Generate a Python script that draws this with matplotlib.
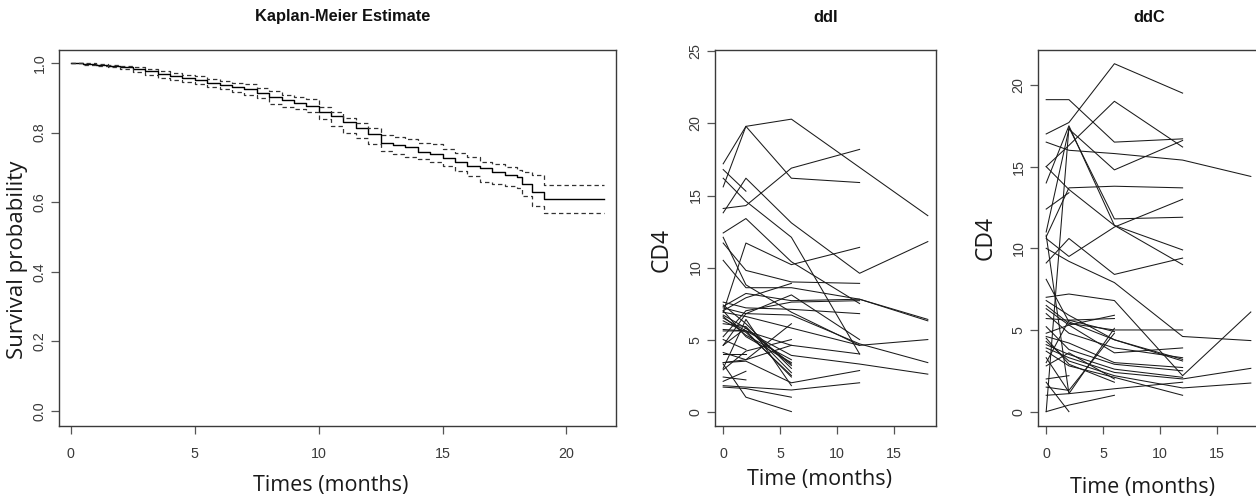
import matplotlib
matplotlib.use("Agg")
import matplotlib.pyplot as plt

# Kaplan-Meier estimate with 95% band (step values)
km_time = [0, 0.5, 1, 1.5, 2, 2.5, 3, 3.5, 4, 4.5, 5, 5.5, 6, 6.5, 7, 7.5, 8, 8.5,
           9, 9.5, 10, 10.5, 11, 11.5, 12, 12.5, 13, 13.5, 14, 14.5, 15, 15.5,
           16, 16.5, 17, 17.5, 18, 18.2, 18.6, 19.1, 21.5]
km_surv = [1.0, 0.997, 0.994, 0.991, 0.988, 0.982, 0.976, 0.969, 0.962, 0.956,
           0.950, 0.943, 0.937, 0.932, 0.926, 0.914, 0.902, 0.893, 0.886, 0.876,
           0.858, 0.846, 0.829, 0.813, 0.795, 0.771, 0.764, 0.757, 0.745, 0.739,
           0.727, 0.714, 0.705, 0.697, 0.688, 0.677, 0.671, 0.652, 0.629, 0.610,
           0.610]
km_upper = [1.0, 0.999, 0.997, 0.995, 0.992, 0.988, 0.982, 0.976, 0.971, 0.966,
            0.962, 0.955, 0.948, 0.943, 0.938, 0.928, 0.919, 0.908, 0.901, 0.895,
            0.874, 0.860, 0.843, 0.828, 0.813, 0.793, 0.788, 0.780, 0.770, 0.767,
            0.754, 0.742, 0.730, 0.716, 0.710, 0.700, 0.693, 0.688, 0.679, 0.648,
            0.648]
km_lower = [1.0, 0.993, 0.990, 0.987, 0.983, 0.974, 0.966, 0.957, 0.951, 0.945,
            0.938, 0.932, 0.926, 0.916, 0.909, 0.899, 0.881, 0.874, 0.867, 0.860,
            0.838, 0.818, 0.800, 0.783, 0.766, 0.748, 0.738, 0.731, 0.724, 0.715,
            0.703, 0.690, 0.675, 0.659, 0.652, 0.646, 0.640, 0.619, 0.590, 0.569,
            0.569]

# CD4 counts per patient: (visit months, values)
ddi_patients = [
    ([0, 2, 6, 18], [15.6, 19.8, 20.3, 13.6]),
    ([0, 2, 6, 12], [17.2, 19.8, 16.2, 15.9]),
    ([0, 2, 6, 12], [14.1, 14.3, 16.9, 18.2]),
    ([0, 2], [16.8, 15.3]),
    ([0, 2, 6, 12, 18], [13.8, 16.2, 13.1, 9.6, 11.8]),
    ([0, 2, 6, 12], [16.2, 14.6, 12.1, 4.0]),
    ([0, 2, 6, 12], [12.4, 13.4, 10.4, 7.5]),
    ([0, 2, 6, 12], [6.9, 11.7, 10.2, 11.4]),
    ([0, 2, 6, 12], [11.7, 9.8, 9.0, 8.9]),
    ([0, 2, 6, 12, 18], [10.5, 8.6, 8.6, 7.8, 6.4]),
    ([0, 2, 6, 12, 18], [7.3, 8.2, 7.7, 7.8, 6.3]),
    ([0, 2, 6], [7.0, 7.9, 8.9]),
    ([0, 2, 6, 12], [7.6, 7.2, 7.1, 6.8]),
    ([0, 2, 6, 12, 18], [6.9, 6.6, 5.8, 4.6, 5.0]),
    ([0, 2, 6, 12], [6.5, 5.6, 4.6, 4.0]),
    ([0, 2, 6, 12, 18], [5.7, 5.6, 3.9, 3.3, 2.6]),
    ([0, 2, 6, 12, 18], [7.2, 6.8, 6.7, 4.7, 3.4]),
    ([0, 2, 6, 12], [4.6, 6.8, 8.1, 5.0]),
    ([0, 2, 6, 12], [1.8, 1.7, 1.5, 2.0]),
    ([0, 2, 6, 12], [3.4, 3.5, 2.0, 2.85]),
    ([0, 2, 6], [3.3, 1.0, 0.0]),
    ([0, 2, 6], [1.7, 1.6, 1.0]),
    ([0, 2], [2.4, 2.2]),
    ([0, 2], [2.1, 2.8]),
    ([0, 2, 6], [6.3, 5.5, 2.5]),
    ([0, 2, 6], [6.7, 5.8, 3.3]),
    ([0, 2, 6], [5.6, 5.6, 2.4]),
    ([0, 2, 6], [4.6, 5.8, 3.2]),
    ([0, 2, 6], [3.4, 3.6, 6.1]),
    ([0, 2, 6], [7.0, 5.2, 3.4]),
    ([0, 2], [4.0, 4.0]),
    ([0, 2, 6], [4.1, 3.6, 4.6]),
    ([0, 2, 6, 12], [12.1, 8.8, 6.9, 4.6]),
    ([0, 2, 6], [3.0, 6.4, 1.8]),
    ([0, 2, 6], [6.1, 5.9, 2.7]),
    ([0, 2, 6], [7.4, 6.1, 3.0]),
    ([0, 2, 6, 12], [5.2, 7.0, 7.6, 7.7]),
    ([0, 2, 6], [2.9, 4.2, 5.0]),
    ([0, 2, 6], [6.6, 5.3, 3.6]),
    ([0, 2], [5.0, 4.3]),
]

ddc_patients = [
    ([0, 2, 6, 12], [19.1, 19.1, 16.5, 16.7]),
    ([0, 2, 6, 12], [17.0, 17.7, 21.3, 19.5]),
    ([0, 2, 6, 12], [15.0, 16.3, 19.0, 16.2]),
    ([0, 2, 6, 12, 18], [16.5, 16.0, 15.8, 15.4, 14.4]),
    ([0, 2, 6, 12], [14.0, 17.5, 11.4, 9.9]),
    ([0, 2, 6, 12], [0.0, 17.4, 11.8, 11.9]),
    ([0, 2, 6, 12], [15.0, 13.6, 11.4, 9.0]),
    ([0, 2, 6, 12], [11.0, 17.3, 14.8, 16.6]),
    ([0, 2, 6, 12], [10.7, 13.7, 13.8, 13.7]),
    ([0, 2], [12.4, 13.4]),
    ([0, 2, 6, 12], [10.6, 9.5, 11.3, 13.0]),
    ([0, 2, 6, 12, 18], [10.0, 9.2, 7.9, 4.6, 4.35]),
    ([0, 2, 6, 12], [9.1, 10.6, 8.4, 9.4]),
    ([0, 2, 6], [10.8, 1.1, 5.1]),
    ([0, 2, 6, 12], [8.1, 5.5, 4.4, 3.1]),
    ([0, 2, 6, 12, 18], [7.0, 7.2, 6.8, 2.2, 6.1]),
    ([0, 2, 6], [5.7, 5.6, 5.7]),
    ([0, 2, 6, 12], [6.5, 5.4, 5.0, 5.0]),
    ([0, 2, 6, 12], [6.8, 5.9, 4.4, 3.2]),
    ([0, 2, 6, 12], [6.3, 5.3, 3.6, 3.9]),
    ([0, 2, 6, 12], [4.6, 4.2, 3.0, 2.7]),
    ([0, 2, 6, 12], [4.1, 3.5, 2.6, 2.1]),
    ([0, 2, 6, 12, 18], [3.9, 3.3, 2.4, 2.0, 2.65]),
    ([0, 2, 6, 12, 18], [4.3, 3.1, 2.2, 1.45, 1.75]),
    ([0, 2, 6, 12], [3.7, 2.8, 2.1, 1.0]),
    ([0, 2, 6, 12], [1.0, 1.1, 1.4, 1.8]),
    ([0, 2, 6], [0.0, 0.4, 1.0]),
    ([0, 2], [1.8, 0.0]),
    ([0, 2, 6], [1.5, 1.3, 4.8]),
    ([0, 2], [2.0, 2.2]),
    ([0, 2, 6], [4.8, 5.3, 5.9]),
    ([0, 2, 6], [3.0, 5.6, 4.9]),
    ([0, 2, 6], [2.8, 3.6, 2.0]),
    ([0, 2, 6, 12], [6.0, 4.8, 3.9, 3.3]),
    ([0, 2], [3.3, 1.2]),
    ([0, 2, 6], [4.5, 2.9, 1.8]),
    ([0, 2, 6, 12], [5.2, 3.8, 2.9, 2.5]),
]

tick_font = "Liberation Sans"
label_font = "Open Sans"
W, H = 1256, 501

fig = plt.figure(figsize=(W / 100, H / 100), dpi=100)


def box(ax):
    for s in ax.spines.values():
        s.set_color("#3a3a3a")
        s.set_linewidth(1.0)
    ax.tick_params(length=6, width=0.9, color="#555555", labelsize=10.3,
                   labelcolor="#3a3a3a", pad=9)
    ax.tick_params(axis="y", labelrotation=90, pad=3)
    for lab in ax.get_xticklabels() + ax.get_yticklabels():
        lab.set_family(tick_font)
    for lab in ax.get_yticklabels():
        lab.set_va("center")


# Kaplan-Meier panel
ax1 = fig.add_axes([59 / W, 75 / H, 557 / W, 376 / H])
ax1.step(km_time, km_surv, where="post", color="black", lw=1.0)
ax1.step(km_time, km_upper, where="post", color="#333333", lw=0.9,
         linestyle=(0, (3.5, 2.5)))
ax1.step(km_time, km_lower, where="post", color="#333333", lw=0.9,
         linestyle=(0, (3.5, 2.5)))
ax1.set_xlim(-0.48, 22.0)
ax1.set_ylim(-0.043, 1.037)
ax1.set_xticks([0, 5, 10, 15, 20])
ax1.set_yticks([0, 0.2, 0.4, 0.6, 0.8, 1.0])
ax1.set_yticklabels(["0.0", "0.2", "0.4", "0.6", "0.8", "1.0"])
box(ax1)

# spaghetti panels
ax2 = fig.add_axes([715 / W, 75 / H, 221 / W, 376 / H])
for t, v in ddi_patients:
    ax2.plot(t, v, color="#1a1a1a", lw=0.75)
ax2.set_xlim(-0.72, 18.72)
ax2.set_ylim(-1.0, 25.1)
ax2.set_xticks([0, 5, 10, 15])
ax2.set_yticks([0, 5, 10, 15, 20, 25])
box(ax2)

ax3 = fig.add_axes([1038 / W, 75 / H, 221 / W, 376 / H])
for t, v in ddc_patients:
    ax3.plot(t, v, color="#1a1a1a", lw=0.75)
ax3.set_xlim(-0.72, 18.72)
ax3.set_ylim(-0.88, 22.14)
ax3.set_xticks([0, 5, 10, 15])
ax3.set_yticks([0, 5, 10, 15, 20])
box(ax3)

# titles and axis labels
title_kw = dict(ha="center", va="center", fontsize=11.8, fontweight="bold",
                family=tick_font, color="#111111")
fig.text(343 / W, 1 - 17 / H, "Kaplan-Meier Estimate", **title_kw)
fig.text(826 / W, 1 - 17 / H, "ddI", **title_kw)
fig.text(1149 / W, 1 - 17 / H, "ddC", **title_kw)

lab_kw = dict(ha="center", va="center", family=label_font, color="#1a1a1a")
fig.text(331 / W, 1 - 485 / H, "Times (months)", fontsize=15.5, **lab_kw)
fig.text(819 / W, 1 - 480 / H, "Time (months)", fontsize=15.5, **lab_kw)
fig.text(1142 / W, 1 - 487 / H, "Time (months)", fontsize=15.5, **lab_kw)
fig.text(18 / W, 1 - 260 / H, "Survival probability", rotation=90,
         fontsize=16, **lab_kw)
fig.text(662 / W, 1 - 250 / H, "CD4", rotation=90, fontsize=16.5, **lab_kw)
fig.text(986 / W, 1 - 238 / H, "CD4", rotation=90, fontsize=16.5, **lab_kw)

fig.savefig("out.png", dpi=100, facecolor="white")
